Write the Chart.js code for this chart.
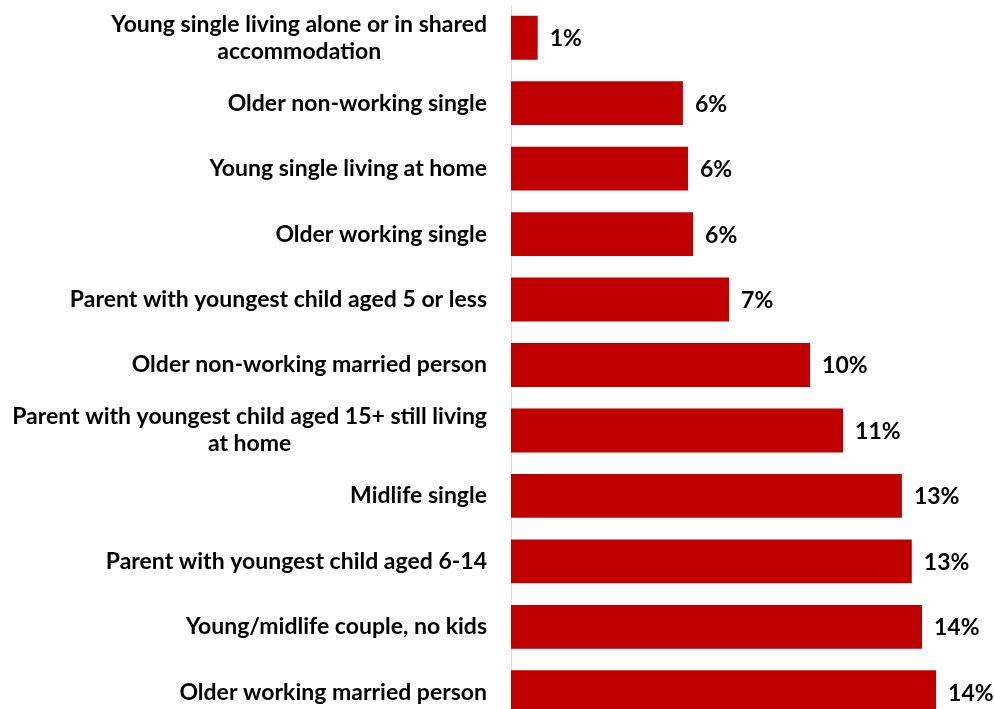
<!DOCTYPE html>
<html>
<head>
<meta charset="utf-8">
<script src="https://cdn.jsdelivr.net/npm/chart.js@4/dist/chart.umd.min.js"></script>
<style>
  html, body { margin: 0; padding: 0; background: #fff; overflow: hidden; }
  canvas { display: block; }
</style>
</head>
<body>
<canvas id="segmentChart" width="994" height="730"></canvas>
<script>
// Share of respondents by life-stage segment
const segments = [
    ["Young single living alone or in shared", "accommodation"],
    ["Older non-working single"],
    ["Young single living at home"],
    ["Older working single"],
    ["Parent with youngest child aged 5 or less"],
    ["Older non-working married person"],
    ["Parent with youngest child aged 15+ still living", "at home"],
    ["Midlife single"],
    ["Parent with youngest child aged 6-14"],
    ["Young/midlife couple, no kids"],
    ["Older working married person"]
];
const shares = [0.89, 5.73, 5.9, 6.07, 7.27, 9.97, 11.07, 13.03, 13.36, 13.7, 14.17];

const BAR_RED = '#C00000';
const FONT = 'bold 23px Lato, "Open Sans", sans-serif';

// Category labels: block right-aligned against the axis, lines centred inside the block
const categoryLabels = {
    id: 'categoryLabels',
    afterDraw(chart) {
        const { ctx } = chart;
        const yScale = chart.scales.y;
        const right = yScale.right - 24;
        const lineHeight = 27;
        ctx.save();
        ctx.font = FONT;
        ctx.fillStyle = '#000';
        ctx.textAlign = 'center';
        ctx.textBaseline = 'middle';
        segments.forEach((lines, i) => {
            const y = yScale.getPixelForValue(i);
            const w = Math.max(...lines.map(l => ctx.measureText(l).width));
            const cx = right - w / 2;
            const top = y - (lines.length - 1) * lineHeight / 2;
            lines.forEach((l, j) => ctx.fillText(l, cx, top + j * lineHeight));
        });
        ctx.restore();
    }
};

// Percentage labels at the end of each bar
const valueLabels = {
    id: 'valueLabels',
    afterDatasetsDraw(chart) {
        const { ctx } = chart;
        const meta = chart.getDatasetMeta(0);
        ctx.save();
        ctx.font = FONT;
        ctx.fillStyle = '#000';
        ctx.textAlign = 'left';
        ctx.textBaseline = 'middle';
        meta.data.forEach((bar, i) => {
            ctx.fillText(Math.round(shares[i]) + '%', bar.x + 12, bar.y + 1);
        });
        ctx.restore();
    }
};

new Chart(document.getElementById('segmentChart'), {
    type: 'bar',
    data: {
        labels: segments.map(s => s.join(' ')),
        datasets: [{
            data: shares,
            backgroundColor: BAR_RED,
            borderWidth: 0,
            barPercentage: 0.67,
            categoryPercentage: 1
        }]
    },
    options: {
        indexAxis: 'y',
        responsive: false,
        animation: false,
        layout: { padding: { top: 5, bottom: 5, left: 0, right: 3 } },
        plugins: {
            legend: { display: false },
            tooltip: { enabled: false }
        },
        scales: {
            x: {
                display: false,
                min: 0,
                max: 16
            },
            y: {
                grid: { display: false, drawTicks: false },
                border: { display: true, color: '#d9d9d9', width: 1 },
                ticks: { display: false },
                afterFit(scale) { scale.width = 511; }
            }
        }
    },
    plugins: [categoryLabels, valueLabels]
});
</script>
</body>
</html>
